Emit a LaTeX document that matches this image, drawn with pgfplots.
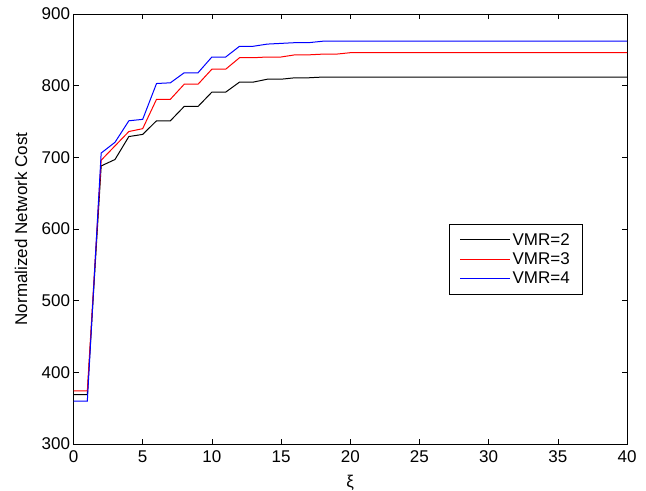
\documentclass[border=0pt]{standalone}
\usepackage{pgfplots}
\pgfplotsset{compat=1.18}
\usepackage{fontspec}
\setmainfont{Liberation Sans}

\begin{document}
\begin{tikzpicture}
  \begin{axis}[
    scale only axis,
    width=553.5pt, height=430pt,
    xmin=0, xmax=40, ymin=300, ymax=900,
    xtick={0,5,...,40},
    ytick={300,400,...,900},
    tick align=inside,
    major tick length=5pt,
    axis line style={line width=0.8pt},
    every tick/.style={black, line width=0.6pt},
    font=\fontsize{17}{20}\selectfont,
    /pgf/number format/assume math mode=true,
    /pgf/number format/1000 sep={},
    tick label style={font=\fontsize{17}{20}\selectfont},
    xticklabel style={yshift=-3pt},
    ylabel={Normalized Network Cost},
    xlabel={ξ},
    ylabel style={at={([xshift=-52.5pt]axis description cs:0,0.5)}, anchor=center,
      font=\fontsize{17}{20}\selectfont},
    xlabel style={at={([yshift=-39pt]axis description cs:0.5,0)}, anchor=center,
      font=\fontsize{17}{20}\selectfont},
    legend cell align=left,
    legend image code/.code={\draw[#1] (0pt,0pt) -- (50pt,0pt);},
    legend style={at={(0.9187,0.5116)}, anchor=north east,
      draw=black, fill=white,
      font=\fontsize{17}{20}\selectfont,
      inner xsep=10pt, inner ysep=7pt, row sep=2pt},
  ]
    % VMR=2
    \addplot[black, line width=1pt] coordinates {
      (0,369) (1,369) (2,688) (3,697) (4,729) (5,732) (6,751) (7,751)
      (8,771) (9,771) (10,791) (11,791) (12,805) (13,805) (14,809) (15,809)
      (16,811) (17,811) (18,812) (40,812)
    };
    \addlegendentry{VMR=2}
    % VMR=3
    \addplot[red, line width=1pt] coordinates {
      (0,374) (1,374) (2,696) (3,716) (4,736) (5,740) (6,781) (7,781)
      (8,802) (9,802) (10,823) (11,823) (12,839) (13,839) (14,840) (15,840)
      (16,843) (17,843) (18,844) (19,844) (20,846) (40,846)
    };
    \addlegendentry{VMR=3}
    % VMR=4
    \addplot[blue, line width=1pt] coordinates {
      (0,360) (1,360) (2,706) (3,721) (4,751) (5,753) (6,803) (7,804)
      (8,818) (9,818) (10,840) (11,840) (12,855) (13,855) (14,858) (15,859)
      (16,860) (17,860) (18,862) (40,862)
    };
    \addlegendentry{VMR=4}
  \end{axis}
  \pgfresetboundingbox
  \useasboundingbox ([xshift=-73.5pt,yshift=-46pt]current axis.south west)
    rectangle ([xshift=19pt,yshift=14pt]current axis.north east);
\end{tikzpicture}
\end{document}
